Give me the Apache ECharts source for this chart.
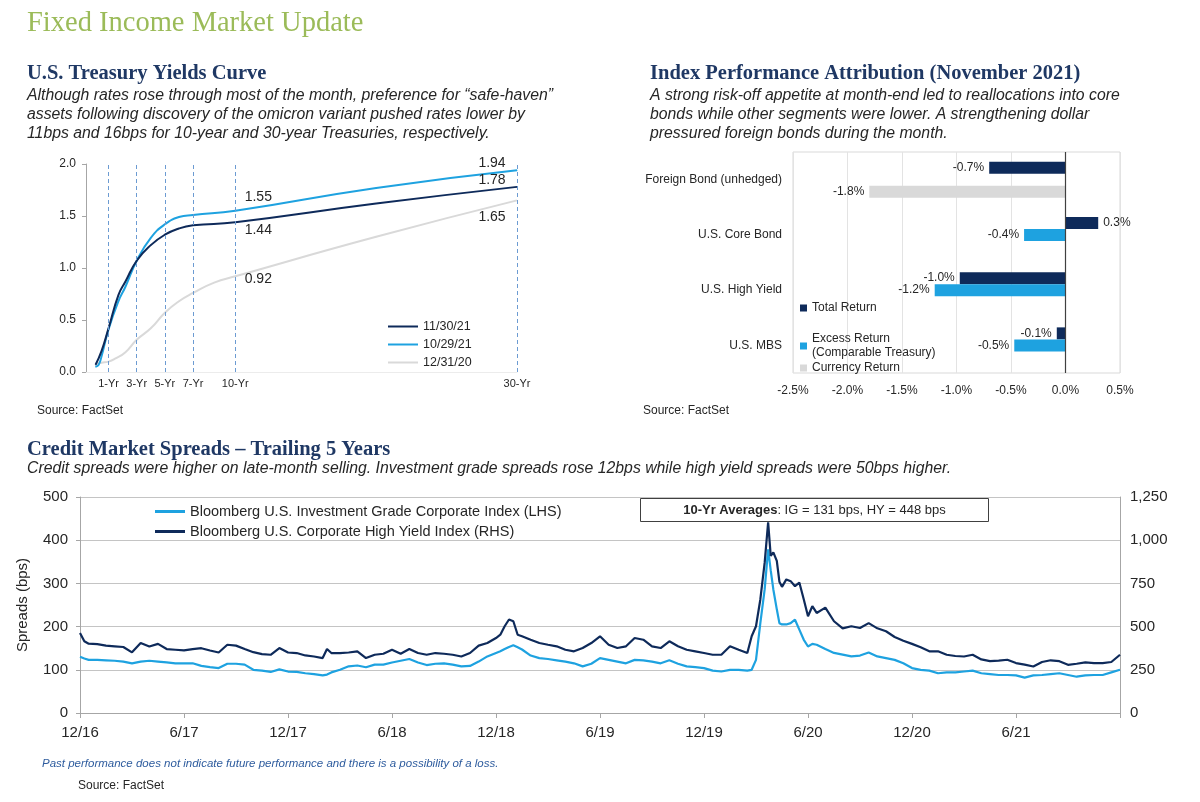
<!DOCTYPE html>
<html>
<head>
<meta charset="utf-8">
<script src="https://cdn.jsdelivr.net/npm/echarts@6.0.0/dist/echarts.min.js"></script>
<style>
html,body{margin:0;padding:0;background:#fff;}
#chart{width:1200px;height:802px;}
</style>
</head>
<body>
<div id="chart"></div>
<script>
// ---------- Treasury yield curve (x = maturity in years, y = yield %) ----------
const maturityTicks = [1, 3, 5, 7, 10, 30];
const maturityLabels = ['1-Yr', '3-Yr', '5-Yr', '7-Yr', '10-Yr', '30-Yr'];
const curveNames = ['11/30/21', '10/29/21', '12/31/20'];
const curveNov21 = [[0.08,0.07],[0.5,0.2],[1,0.42],[1.7,0.74],[2.2,0.87],[3,1.07],[4,1.22],[5,1.32],[6,1.38],[7,1.41],[10,1.44],[20,1.62],[30,1.78]];
const curveOct21 = [[0.08,0.05],[0.3,0.07],[0.5,0.15],[1,0.41],[1.7,0.68],[2.2,0.82],[3,1.07],[4,1.29],[5,1.42],[6,1.49],[7,1.51],[10,1.55],[20,1.77],[30,1.94]];
const curveDec20 = [[0.08,0.08],[0.5,0.09],[1,0.10],[1.5,0.13],[2.2,0.19],[3,0.31],[4,0.42],[5,0.57],[6,0.68],[7,0.76],[8.5,0.86],[10,0.92],[20,1.30],[30,1.65]];

// ---------- Index performance attribution (November 2021, %) ----------
const attribCategories = ['Foreign Bond (unhedged)', 'U.S. Core Bond', 'U.S. High Yield', 'U.S. MBS'];
const attribNames = ['Total Return', 'Excess Return\n(Comparable Treasury)', 'Currency Return'];
const totalReturn = [-0.7, 0.3, -0.97, -0.08];
const excessReturn = [null, -0.38, -1.2, -0.47];
const currencyReturn = [-1.8, null, null, null];

// ---------- Credit spreads (x = months since 30 Nov 2016, bps) ----------
const spreadNames = ['Bloomberg U.S. Investment Grade Corporate Index (LHS)', 'Bloomberg U.S. Corporate High Yield Index (RHS)'];
const spreadTickLabels = ['12/16','6/17','12/17','6/18','12/18','6/19','12/19','6/20','12/20','6/21'];
const spreadMonths = [0,0.25,0.5,1,1.5,2,2.5,3,3.5,4,4.5,5,5.5,6,6.5,7,7.5,8,8.5,9,9.5,10,10.5,11,11.5,12,12.5,13,13.5,14,14.25,14.5,15,15.5,16,16.5,17,17.5,18,18.5,19,19.5,20,20.5,21,21.5,22,22.5,23,23.5,24,24.25,24.5,24.75,25,25.25,25.5,26,26.5,27,27.5,28,28.5,29,29.5,30,30.5,31,31.5,32,32.5,33,33.5,34,34.5,35,35.5,36,36.5,37,37.5,38,38.5,38.75,39,39.25,39.5,39.7,39.85,40,40.2,40.35,40.5,40.75,41,41.25,41.5,41.75,42,42.25,42.5,43,43.5,44,44.5,45,45.5,46,46.5,47,47.5,48,48.5,49,49.5,50,50.5,51,51.5,52,52.5,53,53.5,54,54.5,55,55.5,56,56.5,57,57.5,58,58.5,59,59.5,60];
const igSpread = [130,126,123,123,122,121,119,115,119,121,119,117,115,115,115,109,106,104,114,114,112,100,98,95,101,96,95,92,90,87,89,94,100,108,110,106,112,112,117,121,125,117,111,114,115,112,108,109,119,131,139,143,148,153,157,152,147,133,127,125,122,119,115,108,114,127,123,119,115,123,122,119,115,122,114,108,106,104,98,96,100,100,98,100,123,208,286,379,330,286,240,208,205,205,208,216,193,170,154,160,158,148,139,135,131,133,140,131,127,123,115,104,100,98,92,94,94,96,98,92,90,88,88,87,82,87,88,90,92,88,84,87,88,88,94,100];
const hySpread = [463,415,401,399,390,386,382,351,405,385,400,370,366,362,370,375,362,350,395,390,370,352,341,337,376,350,347,333,327,318,370,347,347,350,357,318,337,343,366,343,370,347,337,347,343,337,327,347,390,405,434,453,502,541,531,453,444,424,405,395,386,366,357,376,405,444,395,376,386,434,424,386,376,415,386,366,357,347,337,337,386,366,347,444,502,657,870,1103,909,930,880,760,730,773,763,734,755,660,560,618,579,610,531,490,502,492,520,490,473,440,418,400,380,357,357,337,330,327,337,310,300,303,308,289,280,269,295,305,300,279,285,293,289,289,295,337];

const NAVY = '#0e2a5a', BLUE = '#1ea2e0', GRAY = '#d9d9d9', TXT = '#262626';
const SANS = "'Liberation Sans', Arial, sans-serif";
const SERIF = "'Liberation Serif', 'DejaVu Serif', serif";

function withLabels(data, offsets) {
  return data.map(function (d) {
    const off = offsets[d[0]];
    if (!off) return d;
    return { value: d, label: { show: true, position: 'inside', offset: off, formatter: d[1].toFixed(2), fontSize: 14, color: TXT, fontFamily: SANS } };
  });
}

function barData(arr) {
  return arr.map(function (v) {
    if (v === null) return '-';
    if (v >= 0) return { value: v, label: { position: 'right' } };
    return v;
  });
}

const chart = echarts.init(document.getElementById('chart'), null, { renderer: 'canvas' });

const textBlocks = [
  { left: 27, top: 9, text: 'Fixed Income Market Update', font: 'normal 28.5px ' + SERIF, fill: '#9bbb59' },
  { left: 27, top: 63, text: 'U.S. Treasury Yields Curve', font: 'bold 20.5px ' + SERIF, fill: '#1f3864' },
  { left: 27, top: 86, text: 'Although rates rose through most of the month, preference for \u201csafe-haven\u201d\nassets following discovery of the omicron variant pushed rates lower by\n11bps and 16bps for 10-year and 30-year Treasuries, respectively.', font: 'italic 15.8px ' + SANS, fill: TXT, lineHeight: 19 },
  { left: 650, top: 63, text: 'Index Performance Attribution (November 2021)', font: 'bold 20.5px ' + SERIF, fill: '#1f3864' },
  { left: 650, top: 86, text: 'A strong risk-off appetite at month-end led to reallocations into core\nbonds while other segments were lower. A strengthening dollar\npressured foreign bonds during the month.', font: 'italic 15.8px ' + SANS, fill: TXT, lineHeight: 19 },
  { left: 37, top: 405, text: 'Source: FactSet', font: 'normal 12px ' + SANS, fill: TXT },
  { left: 643, top: 405, text: 'Source: FactSet', font: 'normal 12px ' + SANS, fill: TXT },
  { left: 27, top: 439, text: 'Credit Market Spreads \u2013 Trailing 5 Years', font: 'bold 20.5px ' + SERIF, fill: '#1f3864' },
  { left: 27, top: 461, text: 'Credit spreads were higher on late-month selling. Investment grade spreads rose 12bps while high yield spreads were 50bps higher.', font: 'italic 15.8px ' + SANS, fill: TXT },
  { left: 42, top: 758, text: 'Past performance does not indicate future performance and there is a possibility of a loss.', font: 'italic 11.5px ' + SANS, fill: '#2e5c9e' },
  { left: 78, top: 780, text: 'Source: FactSet', font: 'normal 12px ' + SANS, fill: TXT }
];

const graphics = textBlocks.map(function (t) {
  return { type: 'text', left: t.left, top: t.top, style: { text: t.text, font: t.font, fill: t.fill, lineHeight: t.lineHeight } };
});
graphics.push({
  type: 'group', left: 640, top: 498, z: 1,
  children: [
    { type: 'rect', shape: { x: 0, y: 0, width: 348, height: 23 }, style: { fill: '#fff', stroke: '#404040', lineWidth: 1 } },
    { type: 'text', style: { x: 174, y: 12, align: 'center', verticalAlign: 'middle', text: '{b|10-Yr Averages}: IG = 131 bps, HY = 448 bps', font: 'normal 13px ' + SANS, fill: TXT, rich: { b: { fontWeight: 'bold', fontSize: 13, fontFamily: SANS, fill: TXT } } } }
  ]
});

const option = {
  backgroundColor: '#fff',
  animation: false,
  graphic: graphics,
  grid: [
    { left: 86, right: 683, top: 164, bottom: 430 },
    { left: 793, right: 80, top: 152, bottom: 429, show: true, borderColor: '#d9d9d9', borderWidth: 1, backgroundColor: 'transparent' },
    { left: 80, right: 80, top: 497, bottom: 89 }
  ],
  legend: [
    { data: curveNames, left: 383, top: 315, orient: 'vertical', itemWidth: 30, itemHeight: 2, itemGap: 5, icon: 'rect', textStyle: { fontSize: 12.5, color: TXT, fontFamily: SANS } },
    { data: [attribNames[0]], left: 795, top: 297, itemWidth: 7, itemHeight: 7, icon: 'rect', textStyle: { fontSize: 12, color: TXT, fontFamily: SANS } },
    { data: [attribNames[1]], left: 795, top: 327, itemWidth: 7, itemHeight: 7, icon: 'rect', textStyle: { fontSize: 12, color: TXT, fontFamily: SANS, lineHeight: 14 } },
    { data: [attribNames[2]], left: 795, top: 357, itemWidth: 7, itemHeight: 7, icon: 'rect', textStyle: { fontSize: 12, color: TXT, fontFamily: SANS } },
    { data: spreadNames, left: 150, top: 499, orient: 'vertical', itemWidth: 30, itemHeight: 3, itemGap: 5, icon: 'rect', textStyle: { fontSize: 14.5, color: TXT, fontFamily: SANS } }
  ],
  xAxis: [
    { gridIndex: 0, type: 'value', min: -0.6, max: 30,
      axisLine: { show: true, onZero: false, lineStyle: { color: '#ececec' } }, axisTick: { show: false }, splitLine: { show: false },
      axisLabel: { customValues: maturityTicks, formatter: function (v) { const i = maturityTicks.indexOf(v); return i >= 0 ? maturityLabels[i] : ''; }, fontSize: 11, color: TXT, fontFamily: "'Liberation Sans Narrow', 'Liberation Sans', sans-serif", margin: 6 } },
    { gridIndex: 1, type: 'value', min: -2.5, max: 0.5, interval: 0.5,
      axisLine: { show: false }, axisTick: { show: false },
      splitLine: { show: true, lineStyle: { color: '#e3e3e3' } },
      axisLabel: { formatter: function (v) { return v.toFixed(1) + '%'; }, fontSize: 12, color: TXT, fontFamily: SANS, margin: 12 } },
    { gridIndex: 2, type: 'value', min: 0, max: 60, interval: 6,
      axisLine: { show: true, onZero: false, lineStyle: { color: '#a6a6a6' } }, axisTick: { show: true, length: 5, lineStyle: { color: '#a6a6a6' } }, splitLine: { show: false },
      axisLabel: { formatter: function (v) { return spreadTickLabels[Math.round(v / 6)] || ''; }, fontSize: 15, color: TXT, fontFamily: SANS, margin: 12 } }
  ],
  yAxis: [
    { gridIndex: 0, type: 'value', min: 0, max: 2, interval: 0.5,
      axisLine: { show: true, onZero: false, lineStyle: { color: '#a6a6a6' } }, axisTick: { show: true, length: 4, lineStyle: { color: '#a6a6a6' } }, splitLine: { show: false },
      axisLabel: { formatter: function (v) { return v.toFixed(1); }, fontSize: 12, color: TXT, fontFamily: SANS, margin: 10 } },
    { gridIndex: 1, type: 'category', data: attribCategories, inverse: true,
      axisLine: { show: false, onZero: false }, axisTick: { show: false },
      axisLabel: { fontSize: 12, color: TXT, fontFamily: SANS, margin: 11 } },
    { gridIndex: 2, type: 'value', min: 0, max: 500, interval: 100, name: 'Spreads (bps)', nameLocation: 'middle', nameGap: 50, nameRotate: 90,
      nameTextStyle: { fontSize: 15, color: TXT, fontFamily: SANS },
      axisLine: { show: true, onZero: false, lineStyle: { color: '#a6a6a6' } }, axisTick: { show: true, length: 4, lineStyle: { color: '#a6a6a6' } },
      splitLine: { show: true, lineStyle: { color: '#c4c4c4' } },
      axisLabel: { fontSize: 15, color: TXT, fontFamily: SANS, margin: 12 } },
    { gridIndex: 2, type: 'value', min: 0, max: 1250, interval: 250, position: 'right',
      axisLine: { show: true, onZero: false, lineStyle: { color: '#a6a6a6' } }, axisTick: { show: false }, splitLine: { show: false },
      axisLabel: { formatter: function (v) { return v.toLocaleString('en-US'); }, fontSize: 15, color: TXT, fontFamily: SANS, margin: 10 } }
  ],
  series: [
    { name: curveNames[0], type: 'line', xAxisIndex: 0, yAxisIndex: 0, smooth: 0.5,
      symbol: 'circle', symbolSize: 1, showSymbol: true, showAllSymbol: true, z: 4,
      lineStyle: { color: NAVY, width: 2 }, itemStyle: { color: NAVY },
      data: withLabels(curveNov21, { 10: [23, 8], 30: [-25, -7] }),
      markLine: { silent: true, symbol: 'none', animation: false,
        lineStyle: { color: '#6c9bd2', type: [4, 3], width: 1 }, label: { show: false },
        data: maturityTicks.map(function (m) { return { xAxis: m }; }) } },
    { name: curveNames[1], type: 'line', xAxisIndex: 0, yAxisIndex: 0, smooth: 0.5,
      symbol: 'circle', symbolSize: 1, showSymbol: true, showAllSymbol: true, z: 3,
      lineStyle: { color: BLUE, width: 2 }, itemStyle: { color: BLUE },
      data: withLabels(curveOct21, { 10: [23, -14], 30: [-25, -7] }) },
    { name: curveNames[2], type: 'line', xAxisIndex: 0, yAxisIndex: 0, smooth: 0.5,
      symbol: 'circle', symbolSize: 1, showSymbol: true, showAllSymbol: true, z: 2,
      lineStyle: { color: GRAY, width: 2 }, itemStyle: { color: GRAY },
      data: withLabels(curveDec20, { 10: [23, 3], 30: [-25, 17] }) },

    { name: attribNames[0], type: 'bar', xAxisIndex: 1, yAxisIndex: 1, barWidth: 12, barGap: '0%',
      itemStyle: { color: NAVY },
      label: { show: true, position: 'left', distance: 5, fontSize: 12, color: TXT, fontFamily: SANS, formatter: function (p) { return p.value.toFixed(1) + '%'; } },
      data: barData(totalReturn),
      markLine: { silent: true, symbol: 'none', label: { show: false }, lineStyle: { color: '#404040', width: 1.2, type: 'solid' }, data: [{ xAxis: 0 }] } },
    { name: attribNames[1], type: 'bar', xAxisIndex: 1, yAxisIndex: 1, barWidth: 12, barGap: '0%',
      itemStyle: { color: BLUE },
      label: { show: true, position: 'left', distance: 5, fontSize: 12, color: TXT, fontFamily: SANS, formatter: function (p) { return p.value.toFixed(1) + '%'; } },
      data: barData(excessReturn) },
    { name: attribNames[2], type: 'bar', xAxisIndex: 1, yAxisIndex: 1, barWidth: 12, barGap: '0%',
      itemStyle: { color: GRAY },
      label: { show: true, position: 'left', distance: 5, fontSize: 12, color: TXT, fontFamily: SANS, formatter: function (p) { return p.value.toFixed(1) + '%'; } },
      data: barData(currencyReturn) },

    { name: spreadNames[0], type: 'line', xAxisIndex: 2, yAxisIndex: 2, showSymbol: false, z: 3,
      lineStyle: { color: BLUE, width: 2.2 }, itemStyle: { color: BLUE },
      data: spreadMonths.map(function (m, i) { return [m, igSpread[i]]; }) },
    { name: spreadNames[1], type: 'line', xAxisIndex: 2, yAxisIndex: 3, showSymbol: false, z: 4,
      lineStyle: { color: NAVY, width: 2.2 }, itemStyle: { color: NAVY },
      data: spreadMonths.map(function (m, i) { return [m, hySpread[i]]; }) }
  ]
};
chart.setOption(option);
</script>
</body>
</html>
